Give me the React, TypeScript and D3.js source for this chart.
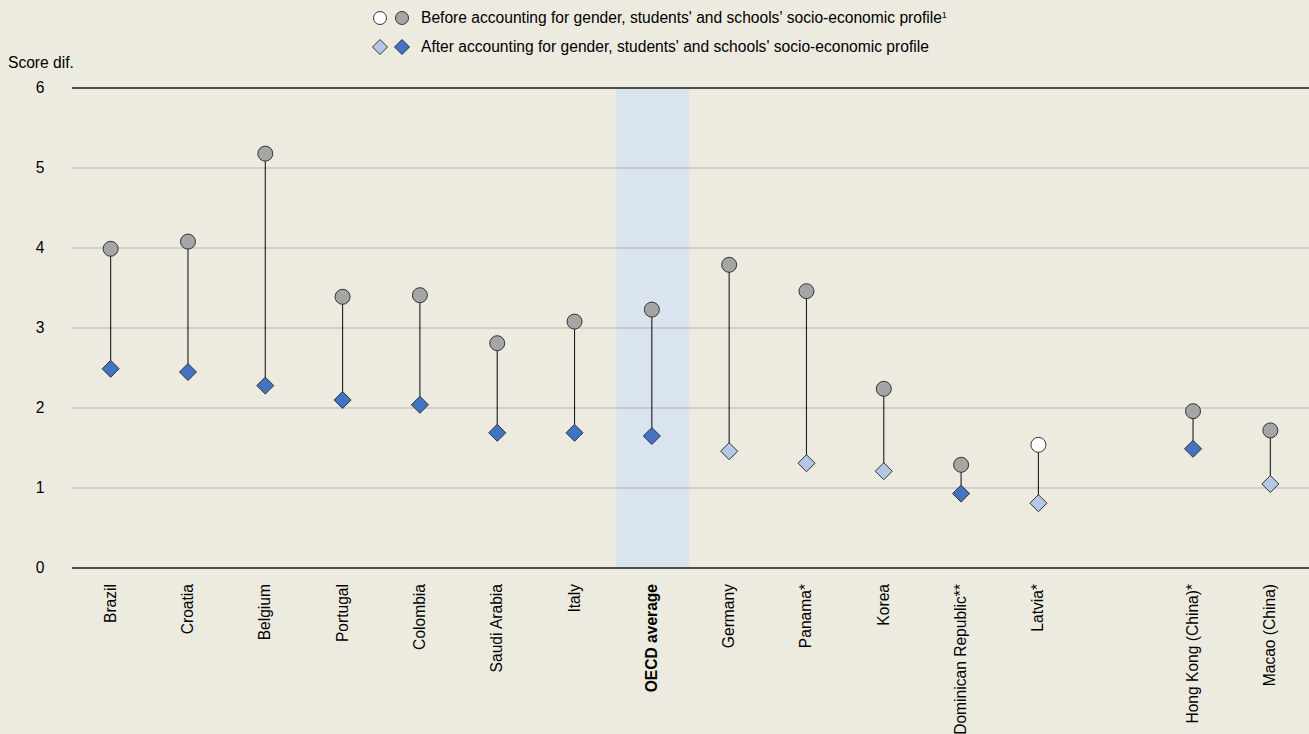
import React from "react";
import * as d3 from "d3";

const categories = ["Brazil", "Croatia", "Belgium", "Portugal", "Colombia", "Saudi Arabia", "Italy", "OECD average", "Germany", "Panama*", "Korea", "Dominican Republic**", "Latvia*", "", "Hong Kong (China)*", "Macao (China)"];
const beforeValues = [3.99, 4.08, 5.18, 3.39, 3.41, 2.81, 3.08, 3.23, 3.79, 3.46, 2.24, 1.29, 1.54, null, 1.96, 1.72];
const beforeSignificant = [true, true, true, true, true, true, true, true, true, true, true, true, false, null, true, true];
const afterValues = [2.49, 2.45, 2.28, 2.10, 2.04, 1.69, 1.69, 1.65, 1.46, 1.31, 1.21, 0.93, 0.81, null, 1.49, 1.05];
const afterSignificant = [true, true, true, true, true, true, true, true, false, false, false, true, false, null, true, false];
const yTicks = [0, 1, 2, 3, 4, 5, 6];

const W = 1309, H = 734;
const FONT = "'Liberation Sans', Arial, sans-serif";
const FS = 15.6;
const BG = "#EDEBE0";
const GREY = "#A5A5A5";
const WHITE = "#FFFFFF";
const DARK = "#4472C4";
const LIGHT = "#B4C7E7";

function diamond(x: number, y: number, r: number) {
  return `M${x},${y - r}L${x + r},${y}L${x},${y + r}L${x - r},${y}Z`;
}

export default function App() {
  const x = d3.scaleBand<string>().domain(categories.map((c, i) => i + "")).range([72, 1309]).padding(0);
  const y = d3.scaleLinear().domain([0, 6]).range([568, 88]);
  const bw = x.bandwidth();
  const oecdIdx = categories.indexOf("OECD average");

  return (
    <div style={{ position: "absolute", left: 0, top: 0 }}>
      <svg width={W} height={H} style={{ display: "block", background: BG, fontFamily: FONT }}>
        <rect x={0} y={0} width={W} height={H} fill={BG} />
        <rect x={(x(oecdIdx + "") as number) + 3} y={y(6)} width={bw - 4} height={y(0) - y(6)} fill="#DAE4EF" />
        {yTicks.map((t) => (
          <g key={t}>
            {t > 0 && t < 6 && <line x1={72} x2={W} y1={y(t)} y2={y(t)} stroke="#B3B3B3" strokeWidth={1} />}
            <text x={40} y={y(t)} dy="0.35em" textAnchor="middle" fontSize={FS} fill="#000">{t}</text>
          </g>
        ))}
        <line x1={72} x2={W} y1={y(6)} y2={y(6)} stroke="#1a1a1a" strokeWidth={1.3} />
        <line x1={72} x2={W} y1={y(0)} y2={y(0)} stroke="#1a1a1a" strokeWidth={1.3} />
        <text x={8} y={68} fontSize={FS} fill="#000">Score dif.</text>

        {categories.map((c, i) => {
          const bv = beforeValues[i];
          const av = afterValues[i];
          if (bv == null || av == null) return null;
          const cx = (x(i + "") as number) + bw / 2;
          return (
            <g key={i}>
              <line x1={cx} x2={cx} y1={y(bv)} y2={y(av)} stroke="#1a1a1a" strokeWidth={1.1} />
              <circle cx={cx} cy={y(bv)} r={7.5} fill={beforeSignificant[i] ? GREY : WHITE} stroke="#333" strokeWidth={1} />
              <path d={diamond(cx, y(av), 8.5)} fill={afterSignificant[i] ? DARK : LIGHT} stroke="#333" strokeWidth={1} />
            </g>
          );
        })}

        {categories.map((c, i) => {
          if (!c) return null;
          const cx = (x(i + "") as number) + bw / 2;
          return (
            <text key={"l" + i} transform={`translate(${cx + 5},584) rotate(-90)`} textAnchor="end" fontSize={FS}
              fontWeight={c === "OECD average" ? "bold" : "normal"} fill="#000">{c}</text>
          );
        })}

        <circle cx={380} cy={18} r={6.5} fill={WHITE} stroke="#333" strokeWidth={1} />
        <circle cx={402} cy={18} r={6.5} fill={GREY} stroke="#333" strokeWidth={1} />
        <text x={421} y={18} dy="0.35em" fontSize={FS} fill="#000">Before accounting for gender, students' and schools' socio-economic profile<tspan fontSize={9} dy="-5">1</tspan></text>
        <path d={diamond(380, 47, 7.5)} fill={LIGHT} stroke="#333" strokeWidth={1} />
        <path d={diamond(402, 47, 7.5)} fill={DARK} stroke="#333" strokeWidth={1} />
        <text x={421} y={47} dy="0.35em" fontSize={FS} fill="#000">After accounting for gender, students' and schools' socio-economic profile</text>
      </svg>
    </div>
  );
}
